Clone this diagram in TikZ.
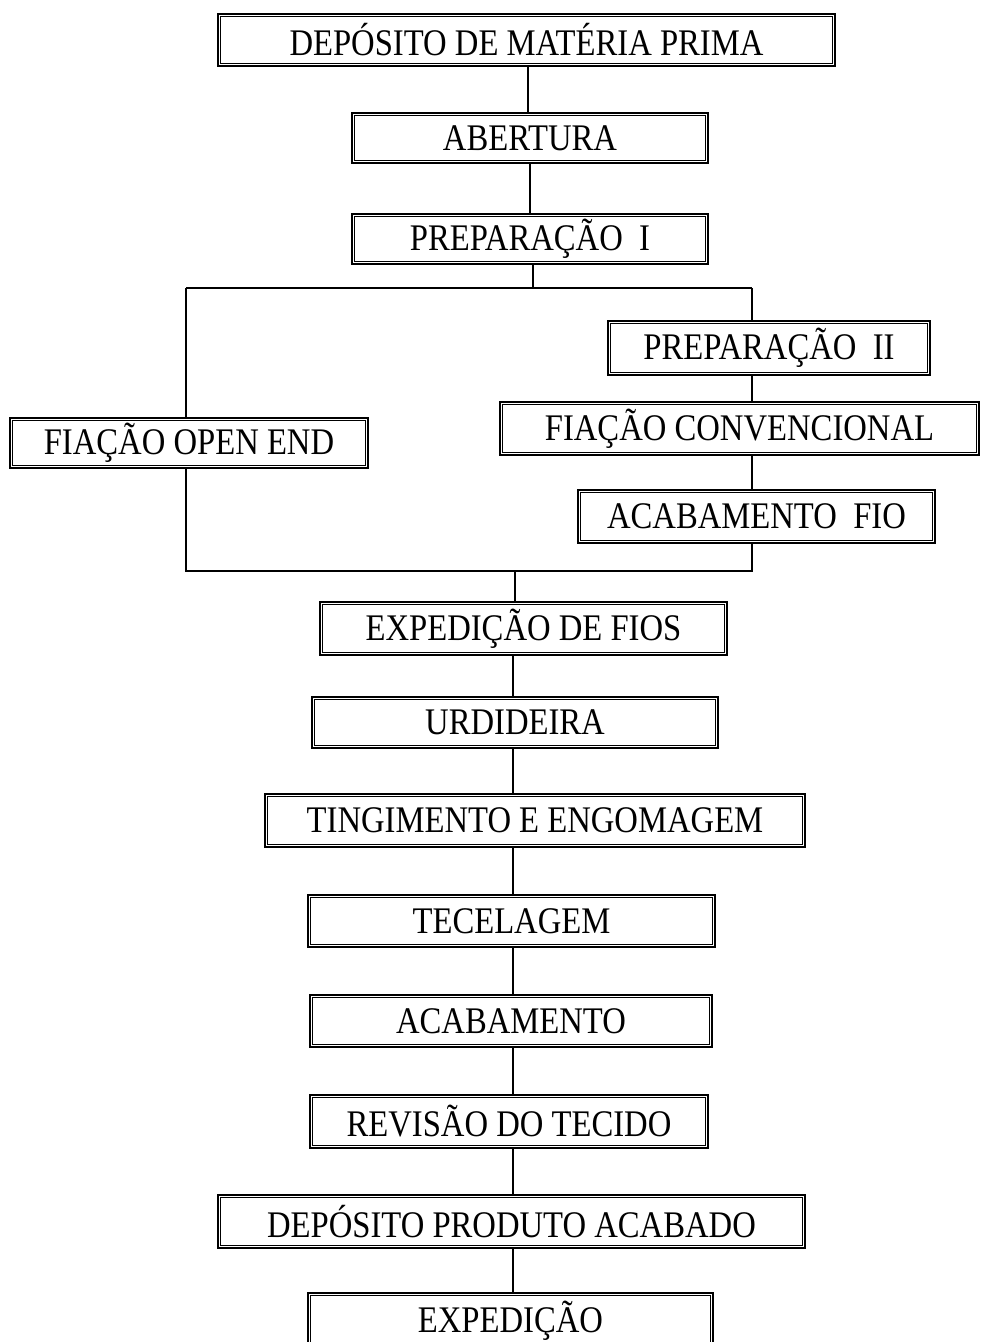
\documentclass[tikz,border=0pt]{standalone}
\usepackage{fontspec}
\usepackage{graphicx}
\setmainfont{Liberation Serif}
\tikzset{
  x=0.75pt, y=-0.75pt,
  stepbox/.style={draw, line width=1.7pt, inner sep=0pt, fill=white,
    font=\fontsize{24.5}{26}\selectfont},
  innerline/.style={draw, line width=0.6pt},
  link/.style={draw, line width=1pt}
}
% \pbox{name}{left}{top}{right}{bottom}{text}: double-framed box in pixel units
\newcommand\pbox[6]{%
  \pgfmathsetmacro\cx{(#2+#4)/2}\pgfmathsetmacro\cy{(#3+#5)/2}%
  \pgfmathsetmacro\bw{(#4-#2)*0.75}\pgfmathsetmacro\bh{(#5-#3)*0.75}%
  \node[stepbox, minimum width=\bw pt, minimum height=\bh pt] (#1) at (\cx,\cy) {\scalebox{1}[1.15]{#6}};
  \draw[innerline] ([xshift=2.8pt,yshift=-2.8pt]#1.north west) rectangle ([xshift=-2.8pt,yshift=2.8pt]#1.south east);
}
\begin{document}
\begin{tikzpicture}
\useasboundingbox (0,0) rectangle (981,1342);
\clip (0,0) rectangle (981,1342);
\fill[white] (0,0) rectangle (981,1342);

% main column, top part
\pbox{dmp}{218}{14}{835}{66}{DEPÓSITO DE MATÉRIA PRIMA}
\pbox{abe}{352}{113}{708}{163}{ABERTURA}
\pbox{pri}{352}{214}{708}{264}{PREPARAÇÃO\ \ I}

% two spinning branches
\pbox{ofe}{10}{418}{368}{468}{FIAÇÃO OPEN END}
\pbox{prii}{608}{321}{930}{375}{PREPARAÇÃO\ \ II}
\pbox{fco}{500}{402}{979}{455}{FIAÇÃO CONVENCIONAL}
\pbox{acf}{578}{490}{935}{543}{ACABAMENTO\ \ FIO}

% main column, lower part
\pbox{exf}{320}{602}{727}{655}{EXPEDIÇÃO DE FIOS}
\pbox{urd}{312}{697}{718}{748}{URDIDEIRA}
\pbox{tin}{265}{794}{805}{847}{TINGIMENTO E ENGOMAGEM}
\pbox{tec}{308}{895}{715}{947}{TECELAGEM}
\pbox{aca}{310}{995}{712}{1047}{ACABAMENTO}
\pbox{rev}{310}{1095}{708}{1148}{REVISÃO DO TECIDO}
\pbox{dpa}{218}{1195}{805}{1248}{DEPÓSITO PRODUTO ACABADO}
\pbox{exp}{308}{1293}{713}{1348}{EXPEDIÇÃO}

% junction points of the split and the merge
\coordinate (tl) at (186,288);
\coordinate (tr) at (752,288);
\coordinate (tm) at (533,288);
\coordinate (bl) at (186,571);
\coordinate (br) at (752,571);
\coordinate (bm) at (515,571);
\coordinate (c1) at (528,0);
\coordinate (c2) at (530,0);
\coordinate (c3) at (513,0);

\draw[link] (dmp.south -| c1) -- (abe.north -| c1);
\draw[link] (abe.south -| c2) -- (pri.north -| c2);
\draw[link] (pri.south -| tm) -- (tm);
\draw[link] (tl) -- (tr);
\draw[link] (tl) -- (ofe.north -| tl);
\draw[link] (ofe.south -| tl) -- (bl) -- (br) -- (acf.south -| br);
\draw[link] (tr) -- (prii.north -| tr);
\draw[link] (prii.south -| tr) -- (fco.north -| tr);
\draw[link] (fco.south -| tr) -- (acf.north -| tr);
\draw[link] (bm) -- (exf.north -| bm);
\draw[link] (exf.south -| c3) -- (urd.north -| c3);
\draw[link] (urd.south -| c3) -- (tin.north -| c3);
\draw[link] (tin.south -| c3) -- (tec.north -| c3);
\draw[link] (tec.south -| c3) -- (aca.north -| c3);
\draw[link] (aca.south -| c3) -- (rev.north -| c3);
\draw[link] (rev.south -| c3) -- (dpa.north -| c3);
\draw[link] (dpa.south -| c3) -- (exp.north -| c3);
\end{tikzpicture}
\end{document}
